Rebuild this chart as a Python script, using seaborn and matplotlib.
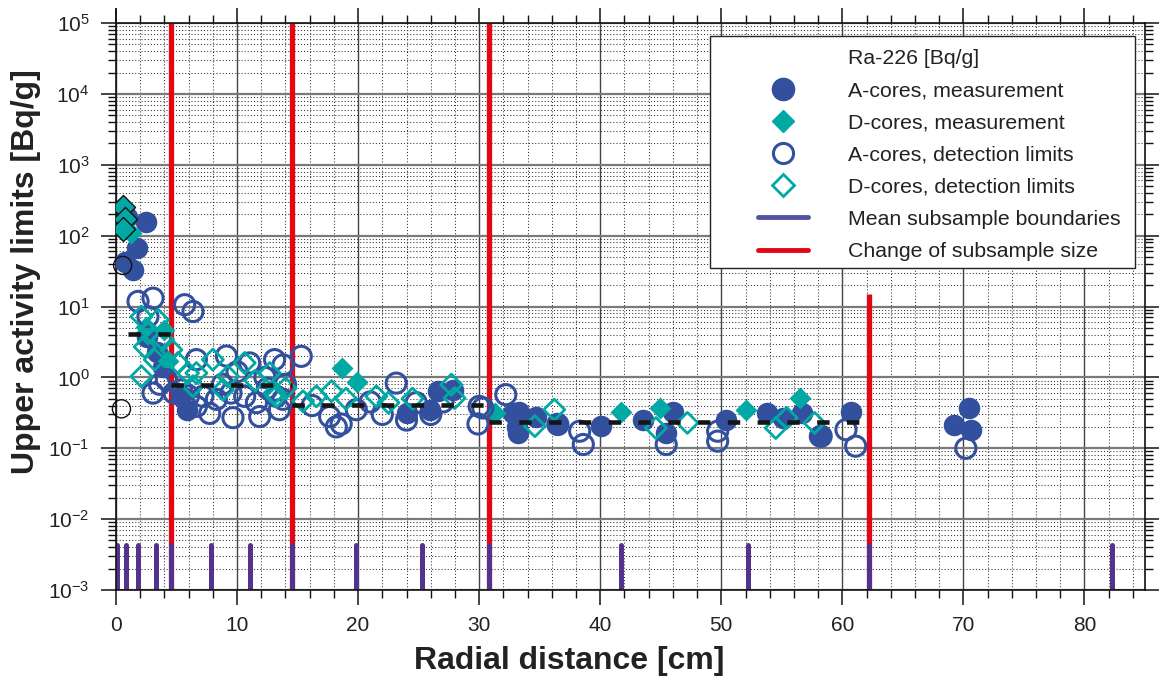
import matplotlib
matplotlib.use("Agg")
import numpy as np
import pandas as pd
import seaborn as sns
import matplotlib.pyplot as plt
from matplotlib.lines import Line2D
from matplotlib.patches import Rectangle
from matplotlib.ticker import LogLocator, MultipleLocator, NullFormatter

# ---------------- data ----------------
a_meas_x = [0.9, 2.45, 1.7, 1.4, 0.75, 2.6, 3.4, 3.9, 5.4, 5.9,
            24.0, 25.9, 26.6, 27.8, 32.8, 33.1, 33.3, 33.2, 34.7, 36.4,
            40.1, 43.5, 46.0, 45.45, 50.4, 53.8, 55.1, 56.7, 58.1, 60.7,
            69.25, 70.5, 70.6]
a_meas_y = [183, 155, 67, 33, 42, 3.7, 2.3, 1.4, 0.54, 0.35,
            0.31, 0.35, 0.65, 0.67, 0.31, 0.2, 0.33, 0.165, 0.28, 0.228,
            0.205, 0.254, 0.33, 0.165, 0.254, 0.315, 0.268, 0.315, 0.148, 0.33,
            0.216, 0.37, 0.183]

d_meas_x = [1.27, 2.5, 4.0, 4.3, 18.7, 19.9, 31.3, 41.7, 44.9, 52.05, 56.5]
d_meas_y = [108, 5.2, 4.7, 1.68, 1.36, 0.85, 0.315, 0.33, 0.37, 0.35, 0.51]

a_det_x = [1.82, 3.06, 5.67, 6.36, 2.64, 3.06, 5.4, 6.64, 4.16, 3.6, 4.8,
           6.64, 9.12, 11.04, 13.1, 13.8, 7.18, 8.29, 10.63, 11.6, 13.25,
           9.66, 11.87, 13.5, 7.74, 8.8, 10.0, 12.3, 9.5, 12.5, 14.0, 6.0,
           15.3, 18.2, 19.85, 23.15, 24.0, 24.8, 30.0, 29.9, 32.2, 17.65, 13.8,
           16.2, 21.0, 22.0, 26.0, 27.0, 18.6,
           30.3, 38.6, 38.3, 36.5, 45.45, 49.7, 49.7, 60.3, 61.1, 58.25, 70.2]
a_det_y = [11.8, 13.1, 10.6, 8.5, 7.2, 0.6, 0.67, 0.39, 0.93, 0.8, 0.6,
           1.78, 2.0, 1.6, 1.78, 1.5, 0.54, 0.49, 0.54, 0.44, 0.54,
           0.27, 0.28, 0.35, 0.31, 0.8, 1.2, 1.0, 0.6, 0.7, 0.8, 0.55,
           1.98, 0.2, 0.35, 0.83, 0.25, 0.44, 0.39, 0.22, 0.57, 0.28, 0.49,
           0.4, 0.45, 0.3, 0.3, 0.45, 0.22,
           0.37, 0.113, 0.174, 0.216, 0.113, 0.174, 0.126, 0.183, 0.107, 0.148, 0.1]

d_det_x = [2.1, 3.47, 2.64, 3.88, 2.37, 4.57, 3.2, 5.12, 2.1, 5.95, 6.36,
           8.0, 9.25, 10.63, 12.7, 13.25, 8.84, 6.64, 11.5, 14.0,
           13.1, 16.55, 17.8, 21.5, 22.5, 27.97, 27.7, 15.45, 19.0, 24.5,
           34.6, 36.2, 44.6, 47.2, 54.5, 55.4, 57.7]
d_det_y = [7.2, 6.5, 4.2, 3.4, 2.7, 2.45, 1.78, 1.6, 1.03, 1.15, 0.75,
           1.78, 1.03, 1.6, 1.15, 0.54, 0.67, 1.15, 0.9, 0.7,
           0.6, 0.54, 0.64, 0.54, 0.44, 0.51, 0.79, 0.46, 0.5, 0.5,
           0.205, 0.35, 0.193, 0.228, 0.193, 0.268, 0.228]

# outlined points near the origin
ref_d_x = [0.6, 0.75, 0.6]
ref_d_y = [257, 170, 123]
ref_a_x = [0.55, 0.45]
ref_a_y = [38, 0.36]

mean_start = [1.0, 4.58, 14.5, 30.8]
mean_end = [4.58, 14.5, 30.8, 62.2]
mean_level = [4.1, 0.79, 0.41, 0.234]

boundaries = [0.11, 0.86, 1.82, 3.28, 4.58, 7.82, 11.1, 14.5, 19.8, 25.3,
              30.8, 41.7, 52.2, 62.2, 82.3]
boundary_top = 4.3e-3

size_change = [4.58, 14.5, 30.8, 62.2]
size_change_top = [1e5, 1e5, 1e5, 15]

legend_labels = ["Ra-226 [Bq/g]", "A-cores, measurement", "D-cores, measurement",
                 "A-cores, detection limits", "D-cores, detection limits",
                 "Mean subsample boundaries", "Change of subsample size"]

BLUE = "#33509f"
TEAL = "#00a9a4"
PURPLE = "#53338d"
LPURPLE = "#5252a3"
RED = "#e30613"
TXT = "#222222"

# ---------------- figure ----------------
sns.set_theme(style="white")
plt.rcParams["font.family"] = ["Liberation Sans", "DejaVu Sans"]
plt.rcParams["mathtext.default"] = "regular"

W, H = 1159, 677
fig = plt.figure(figsize=(W / 100, H / 100), dpi=100)
ax = fig.add_axes([116 / W, 1 - 590 / H, (1145 - 116) / W, (590 - 23) / H])
ax.set_yscale("log")
ax.set_xlim(0, 85)
ax.set_ylim(1e-3, 1e5)

# grid
ax.xaxis.set_major_locator(MultipleLocator(10))
ax.xaxis.set_minor_locator(MultipleLocator(2))
ax.yaxis.set_major_locator(LogLocator(base=10, numticks=20))
ax.yaxis.set_minor_locator(LogLocator(base=10, subs=np.arange(2, 10), numticks=20))
ax.yaxis.set_minor_formatter(NullFormatter())
ax.grid(which="major", axis="x", color="#444444", lw=1.0, ls="-")
ax.grid(which="major", axis="y", color="#7a7a7a", lw=1.6, ls="-")
ax.grid(which="minor", axis="both", color="#333333", lw=0.75, ls=(0, (1, 2)))
ax.set_axisbelow(True)

for sp in ax.spines.values():
    sp.set_visible(True)
    sp.set_color("#111111")
    sp.set_linewidth(1.2)

ax.tick_params(which="both", direction="out", bottom=True, left=True, top=True,
               right=True, labeltop=False, labelright=False, colors="#111111",
               labelcolor=TXT, labelsize=15, pad=8)
ax.tick_params(which="major", length=11, width=1.1)
ax.tick_params(which="minor", length=5.5, width=1.0)

# red change lines
ax.vlines(size_change, 1e-3, size_change_top, color=RED, lw=3.8, zorder=2)
# mean subsample boundaries
bl = ax.vlines(boundaries, 1e-3, boundary_top, color=PURPLE, lw=3.6, zorder=2.5)
bl.set_capstyle("round")

# scatter series
sns.scatterplot(x=a_meas_x, y=a_meas_y, marker="o", s=240, color=BLUE,
                edgecolor=BLUE, linewidth=0, ax=ax, zorder=3, legend=False)
sns.scatterplot(x=d_meas_x, y=d_meas_y, marker="D", s=125, color=TEAL,
                edgecolor=TEAL, linewidth=0, ax=ax, zorder=3, legend=False)
sns.scatterplot(x=ref_d_x, y=ref_d_y, marker="D", s=150, color=TEAL,
                edgecolor="#111111", linewidth=1.0, ax=ax, zorder=3.2, legend=False)
sns.scatterplot(x=a_det_x, y=a_det_y, marker="o", s=210, facecolor="none",
                edgecolor=BLUE, linewidth=2.2, ax=ax, zorder=3.4, legend=False)
sns.scatterplot(x=d_det_x, y=d_det_y, marker="D", s=115, facecolor="none",
                edgecolor=TEAL, linewidth=2.0, ax=ax, zorder=3.5, legend=False)
sns.scatterplot(x=ref_a_x, y=ref_a_y, marker="o", s=170, facecolor="none",
                edgecolor="#111111", linewidth=1.0, ax=ax, zorder=3.6,
                legend=False, clip_on=False)

# mean levels (dashed)
ax.hlines(mean_level, mean_start, mean_end, color="#151515", lw=3.3,
          linestyles=[(0, (2.7, 3.8))], zorder=4)

# spine extension above the top
ax.plot([0, 0], [1e5, 10 ** 5.2], color="#111111", lw=1.2, clip_on=False)

# labels
ax.set_xlabel("Radial distance [cm]", fontsize=23, fontweight="bold", color=TXT)
ax.set_ylabel("Upper activity limits [Bq/g]", fontsize=23, fontweight="bold", color=TXT)
ax.xaxis.set_label_coords((569 - 116) / (1145 - 116), -(646 - 590) / (590 - 23))
ax.yaxis.set_label_coords(-(116 - 41) / (1145 - 116), (590 - 272) / (590 - 23))

# legend
handles = [
    Line2D([], [], linestyle="none"),
    Line2D([], [], linestyle="none", marker="o", ms=16, color=BLUE, mec=BLUE),
    Line2D([], [], linestyle="none", marker="D", ms=11.5, color=TEAL, mec=TEAL),
    Line2D([], [], linestyle="none", marker="o", ms=14.5, mfc="none", mec=BLUE, mew=2.2),
    Line2D([], [], linestyle="none", marker="D", ms=11, mfc="none", mec=TEAL, mew=2.0),
    Line2D([], [], color=LPURPLE, lw=3.5),
    Line2D([], [], color=RED, lw=3.5),
]
rect = Rectangle((710 / W, 1 - 268 / H), 425 / W, 232 / H, transform=fig.transFigure,
                 facecolor="white", edgecolor="#222222", lw=1.0, zorder=10, clip_on=False)
ax.add_artist(rect)
leg = ax.legend(handles, legend_labels, loc="upper left",
                bbox_to_anchor=(758 / W, 1 - 49 / H), bbox_transform=fig.transFigure,
                frameon=False, fontsize=15.3, borderpad=0, borderaxespad=0,
                handlelength=2.35, handletextpad=1.88, labelspacing=0.62,
                labelcolor=TXT)
leg.set_zorder(11)

fig.savefig("out.png", dpi=100)
